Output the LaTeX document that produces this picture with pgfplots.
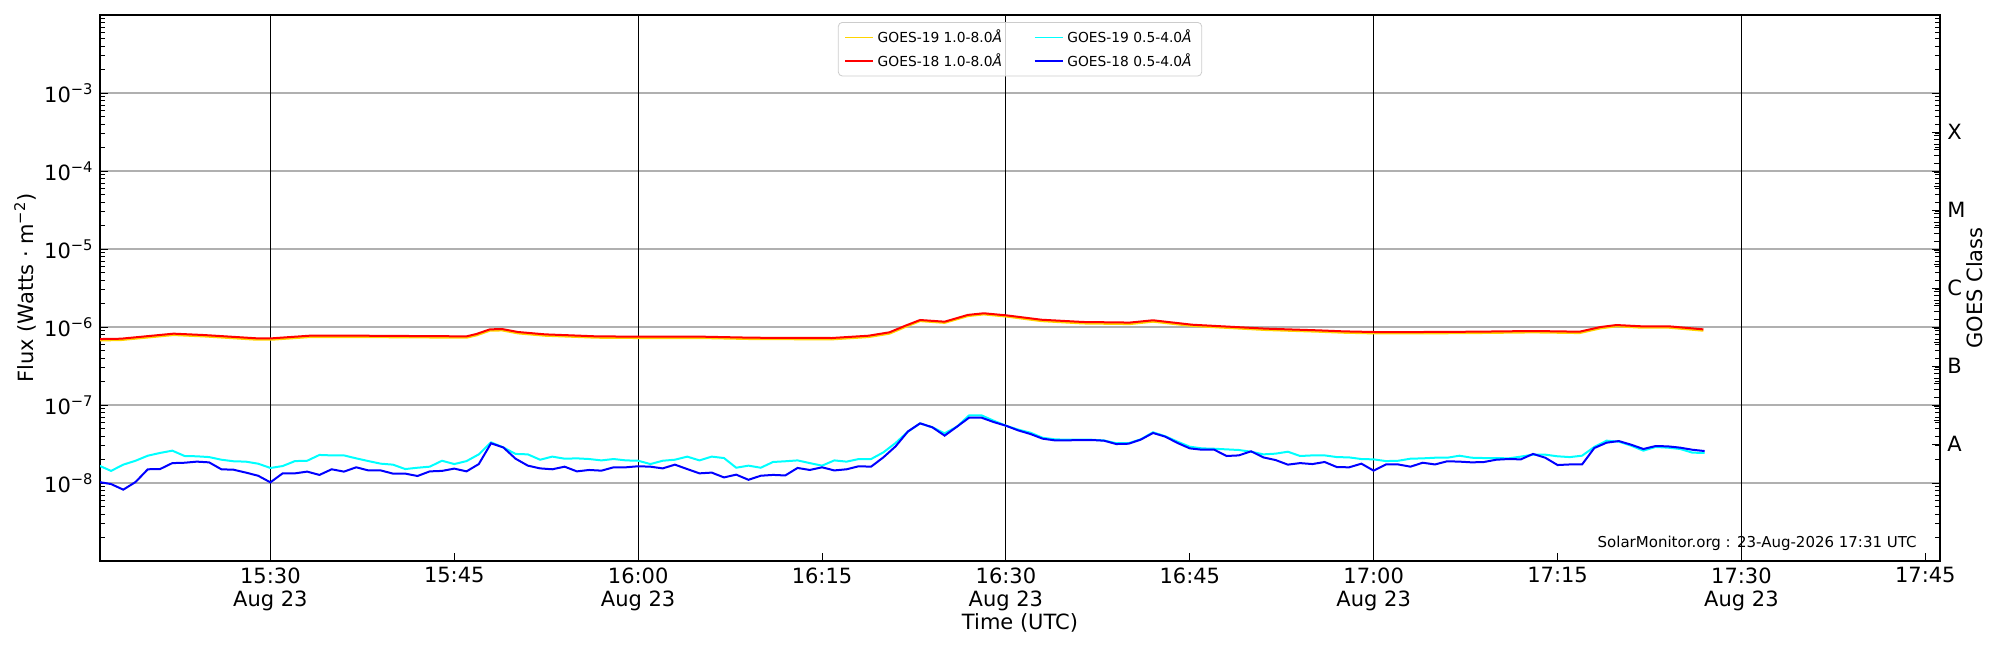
\documentclass[border=0pt]{standalone}
\usepackage{fontspec}
\setmainfont{DejaVu Sans}
\usepackage{pgfplots}
\pgfplotsset{compat=1.18}
\definecolor{goldline}{HTML}{FFD400}
\definecolor{cyanline}{HTML}{00FFFF}
\definecolor{redline}{HTML}{FF0000}
\definecolor{blueline}{HTML}{0000FF}
\newcommand{\sq}[1]{10\textsuperscript{−#1}}
\begin{document}
\begin{tikzpicture}
\path[use as bounding box] (0,0) rectangle (1000pt,325pt);
\begin{axis}[
  at={(50pt,44.5pt)}, anchor=south west,
  scale only axis, width=920pt, height=273pt,
  xmin=16.1, xmax=166.2,
  ymode=log, ymin=1e-9, ymax=1e-2,
  axis line style={line width=0.7pt},
  tick align=inside,
  xtick pos=left,
  major tick length=4pt, minor tick length=2.5pt,
  every tick/.style={black, line width=0.5pt},
  xtick={30,45,60,75,90,105,120,135,150,165},
  xticklabels={{15:30\\Aug 23},{15:45},{16:00\\Aug 23},{16:15},{16:30\\Aug 23},{16:45},{17:00\\Aug 23},{17:15},{17:30\\Aug 23},{17:45}},
  xticklabel style={align=center, anchor=north, inner sep=0pt, yshift=-3pt, font=\fontsize{10.5}{11.6}\selectfont},
  extra x ticks={30,60,90,120,150},
  extra x tick labels={},
  extra x tick style={xmajorgrids=true, major grid style={black, line width=0.5pt}},
  ytick={1e-9,1e-8,1e-7,1e-6,1e-5,1e-4,1e-3,1e-2},
  yticklabels={{},{\sq{8}},{\sq{7}},{\sq{6}},{\sq{5}},{\sq{4}},{\sq{3}},{}},
  yticklabel style={anchor=east, inner sep=0pt, xshift=-3pt, font=\fontsize{10.5}{12}\selectfont},
  ymajorgrids=true,
  major grid style={color=black!31, line width=0.6pt},
  xlabel={Time (UTC)},
  xlabel style={at={(axis description cs:0.5,0)}, anchor=center, yshift=-31pt, font=\fontsize{10.5}{12}\selectfont},
  ylabel={Flux (Watts · m\textsuperscript{−2})},
  ylabel style={at={([xshift=-37.5pt]axis description cs:0,0.5)}, anchor=center, rotate=0, font=\fontsize{10.5}{12}\selectfont},
  legend columns=2,
  legend cell align=left,
  legend image code/.code={\draw[#1, line width=0.7pt] (0pt,0pt) -- (14pt,0pt);},
  legend style={at={(axis description cs:0.5,1)}, anchor=north, yshift=-3.5pt,
    draw=black!20, rounded corners=2pt, fill=white, fill opacity=0.8, text opacity=1,
    font=\fontsize{6.9}{8}\selectfont, inner xsep=3pt, inner ysep=1.5pt, row sep=0pt,
    /tikz/column 2/.style={column sep=14pt}},
]
% GOES-19 1.0-8.0 A
\addplot[goldline, line width=1pt] coordinates {
(16.1,6.73e-7) (17.8,6.80e-7) (22.1,7.89e-7) (24.6,7.57e-7) (28.9,6.87e-7) (30.1,6.87e-7)
(33.2,7.43e-7) (37.4,7.43e-7) (46.0,7.29e-7) (46.8,7.80e-7) (47.9,8.96e-7) (48.9,9.04e-7)
(50.2,8.28e-7) (52.4,7.73e-7) (54.5,7.51e-7) (56.6,7.29e-7) (60.1,7.22e-7) (65.2,7.22e-7)
(69.4,7.00e-7) (75.8,6.94e-7) (78.8,7.43e-7) (80.5,8.21e-7) (81.8,1.00e-6) (83.0,1.19e-6)
(85.0,1.13e-6) (86.9,1.38e-6) (88.2,1.45e-6) (90.05,1.36e-6) (92.9,1.19e-6) (96.3,1.11e-6)
(100.1,1.09e-6) (102.0,1.17e-6) (105.2,1.03e-6) (111.2,9.15e-7) (115.5,8.70e-7) (117.6,8.44e-7)
(120.05,8.28e-7) (124.0,8.28e-7) (128.3,8.36e-7) (133.0,8.53e-7) (136.8,8.36e-7) (138.5,9.60e-7)
(139.8,1.02e-6) (141.9,9.79e-7) (144.1,9.79e-7) (146.9,8.96e-7)
};
\addlegendentry{GOES-19 1.0-8.0\textit{Å}}
% GOES-19 0.5-4.0 A
\addplot[cyanline, line width=1pt] coordinates {
(16,1.68e-8) (17,1.43e-8) (18,1.72e-8) (19,1.93e-8) (20,2.24e-8) (21,2.43e-8) (22,2.60e-8)
(23,2.22e-8) (24,2.20e-8) (25,2.15e-8) (26,1.99e-8) (27,1.90e-8) (28,1.88e-8) (29,1.77e-8)
(30,1.56e-8) (31,1.65e-8) (32,1.91e-8) (33,1.93e-8) (34,2.29e-8) (35,2.26e-8) (36,2.26e-8)
(37,2.07e-8) (38,1.91e-8) (39,1.77e-8) (40,1.72e-8) (41,1.51e-8) (42,1.57e-8) (43,1.62e-8)
(44,1.93e-8) (45,1.75e-8) (46,1.91e-8) (47,2.33e-8) (48,3.32e-8) (49,2.86e-8) (50,2.36e-8)
(51,2.33e-8) (52,1.99e-8) (53,2.18e-8) (54,2.05e-8) (55,2.07e-8) (56,2.03e-8) (57,1.95e-8)
(58,2.03e-8) (59,1.95e-8) (60,1.93e-8) (61,1.75e-8) (62,1.93e-8) (63,1.99e-8) (64,2.18e-8)
(65,1.95e-8) (66,2.18e-8) (67,2.09e-8) (68,1.57e-8) (69,1.67e-8) (70,1.57e-8) (71,1.86e-8)
(72,1.90e-8) (73,1.95e-8) (74,1.80e-8) (75,1.67e-8) (76,1.95e-8) (77,1.88e-8) (78,2.03e-8)
(79,2.03e-8) (80,2.47e-8) (81,3.26e-8) (82,4.55e-8) (83,5.82e-8) (84,5.18e-8) (85,4.34e-8)
(86,5.27e-8) (87,7.38e-8) (88,7.38e-8) (89,6.30e-8) (90,5.43e-8) (91,4.84e-8) (92,4.42e-8)
(93,3.80e-8) (94,3.63e-8) (95,3.59e-8) (96,3.59e-8) (97,3.59e-8) (98,3.51e-8) (99,3.24e-8)
(100,3.24e-8) (101,3.63e-8) (102,4.47e-8) (103,3.98e-8) (104,3.39e-8) (105,2.92e-8) (106,2.78e-8)
(107,2.75e-8) (108,2.70e-8) (109,2.65e-8) (110,2.52e-8) (111,2.33e-8) (112,2.38e-8) (113,2.52e-8)
(114,2.22e-8) (115,2.26e-8) (116,2.26e-8) (117,2.15e-8) (118,2.13e-8) (119,2.03e-8) (120,2.01e-8)
(121,1.91e-8) (122,1.93e-8) (123,2.05e-8) (124,2.07e-8) (125,2.11e-8) (126,2.11e-8) (127,2.24e-8)
(128,2.11e-8) (129,2.09e-8) (130,2.09e-8) (131,2.07e-8) (132,2.18e-8) (133,2.31e-8) (134,2.31e-8)
(135,2.20e-8) (136,2.15e-8) (137,2.24e-8) (138,2.90e-8) (139,3.49e-8) (140,3.39e-8) (141,3.01e-8)
(142,2.60e-8) (143,2.90e-8) (144,2.84e-8) (145,2.73e-8) (146,2.45e-8) (147,2.43e-8)
};
\addlegendentry{GOES-19 0.5-4.0\textit{Å}}
% GOES-18 1.0-8.0 A
\addplot[redline, line width=1pt] coordinates {
(16.1,7.01e-7) (17.8,7.08e-7) (22.1,8.22e-7) (24.6,7.89e-7) (28.9,7.16e-7) (30.1,7.16e-7)
(33.2,7.74e-7) (37.4,7.74e-7) (46.0,7.59e-7) (46.8,8.13e-7) (47.9,9.33e-7) (48.9,9.42e-7)
(50.2,8.63e-7) (52.4,8.05e-7) (54.5,7.82e-7) (56.6,7.59e-7) (60.1,7.52e-7) (65.2,7.52e-7)
(69.4,7.29e-7) (75.8,7.23e-7) (78.8,7.74e-7) (80.5,8.55e-7) (81.8,1.04e-6) (83.0,1.23e-6)
(85.0,1.17e-6) (86.9,1.43e-6) (88.2,1.50e-6) (90.05,1.41e-6) (92.9,1.24e-6) (96.3,1.16e-6)
(100.1,1.14e-6) (102.0,1.22e-6) (105.2,1.07e-6) (111.2,9.53e-7) (115.5,9.06e-7) (117.6,8.79e-7)
(120.05,8.63e-7) (124.0,8.63e-7) (128.3,8.71e-7) (133.0,8.89e-7) (136.8,8.71e-7) (138.5,1.00e-6)
(139.8,1.06e-6) (141.9,1.02e-6) (144.1,1.02e-6) (146.9,9.33e-7)
};
\addlegendentry{GOES-18 1.0-8.0\textit{Å}}
% GOES-18 0.5-4.0 A
\addplot[blueline, line width=1pt] coordinates {
(16,1.03e-8) (17,9.70e-9) (18,8.22e-9) (19,1.03e-8) (20,1.50e-8) (21,1.51e-8) (22,1.80e-8)
(23,1.82e-8) (24,1.88e-8) (25,1.84e-8) (26,1.50e-8) (27,1.48e-8) (28,1.36e-8) (29,1.24e-8)
(30,1.02e-8) (31,1.33e-8) (32,1.33e-8) (33,1.40e-8) (34,1.27e-8) (35,1.50e-8) (36,1.40e-8)
(37,1.59e-8) (38,1.45e-8) (39,1.45e-8) (40,1.32e-8) (41,1.32e-8) (42,1.23e-8) (43,1.41e-8)
(44,1.43e-8) (45,1.53e-8) (46,1.41e-8) (47,1.75e-8) (48,3.23e-8) (49,2.86e-8) (50,2.05e-8)
(51,1.67e-8) (52,1.54e-8) (53,1.50e-8) (54,1.62e-8) (55,1.41e-8) (56,1.47e-8) (57,1.44e-8)
(58,1.59e-8) (59,1.59e-8) (60,1.64e-8) (61,1.62e-8) (62,1.54e-8) (63,1.72e-8) (64,1.51e-8)
(65,1.33e-8) (66,1.36e-8) (67,1.18e-8) (68,1.28e-8) (69,1.10e-8) (70,1.24e-8) (71,1.27e-8)
(72,1.25e-8) (73,1.56e-8) (74,1.47e-8) (75,1.59e-8) (76,1.45e-8) (77,1.50e-8) (78,1.64e-8)
(79,1.62e-8) (80,2.13e-8) (81,2.95e-8) (82,4.57e-8) (83,5.82e-8) (84,5.18e-8) (85,4.05e-8)
(86,5.27e-8) (87,6.89e-8) (88,6.89e-8) (89,6.05e-8) (90,5.43e-8) (91,4.73e-8) (92,4.25e-8)
(93,3.70e-8) (94,3.52e-8) (95,3.52e-8) (96,3.56e-8) (97,3.56e-8) (98,3.49e-8) (99,3.16e-8)
(100,3.19e-8) (101,3.60e-8) (102,4.38e-8) (103,3.93e-8) (104,3.26e-8) (105,2.78e-8) (106,2.67e-8)
(107,2.67e-8) (108,2.22e-8) (109,2.26e-8) (110,2.55e-8) (111,2.13e-8) (112,1.97e-8) (113,1.72e-8)
(114,1.80e-8) (115,1.75e-8) (116,1.86e-8) (117,1.60e-8) (118,1.59e-8) (119,1.77e-8) (120,1.44e-8)
(121,1.73e-8) (122,1.73e-8) (123,1.62e-8) (124,1.82e-8) (125,1.73e-8) (126,1.90e-8) (127,1.88e-8)
(128,1.84e-8) (129,1.86e-8) (130,1.99e-8) (131,2.03e-8) (132,2.01e-8) (133,2.36e-8) (134,2.11e-8)
(135,1.70e-8) (136,1.73e-8) (137,1.73e-8) (138,2.81e-8) (139,3.29e-8) (140,3.45e-8) (141,3.10e-8)
(142,2.73e-8) (143,2.98e-8) (144,2.95e-8) (145,2.84e-8) (146,2.67e-8) (147,2.57e-8)
};
\addlegendentry{GOES-18 0.5-4.0\textit{Å}}
\node[anchor=east, inner sep=0pt, font=\fontsize{7.5}{9}\selectfont] at ([xshift=-11.5pt,yshift=9pt]rel axis cs:1,0) {SolarMonitor.org : 23-Aug-2026 17:31 UTC};
\end{axis}
\begin{axis}[
  at={(50pt,44.5pt)}, anchor=south west,
  scale only axis, width=920pt, height=273pt,
  xmin=16.1, xmax=166.2,
  ymode=log, ymin=1e-9, ymax=1e-2,
  hide x axis,
  axis y line*=right,
  axis line style={line width=0.7pt},
  tick align=inside,
  major tick length=4pt,
  every tick/.style={black, line width=0.5pt},
  minor ytick={},
  ytick={3.162e-8,3.162e-7,3.162e-6,3.162e-5,3.162e-4},
  yticklabels={A,B,C,M,X},
  yticklabel style={anchor=west, inner sep=0pt, xshift=3.5pt, font=\fontsize{10.5}{12}\selectfont},
  ylabel={GOES Class},
  ylabel style={at={([xshift=17.5pt]axis description cs:1,0.5)}, anchor=center, font=\fontsize{10.5}{12}\selectfont},
]
\end{axis}
\end{tikzpicture}
\end{document}
